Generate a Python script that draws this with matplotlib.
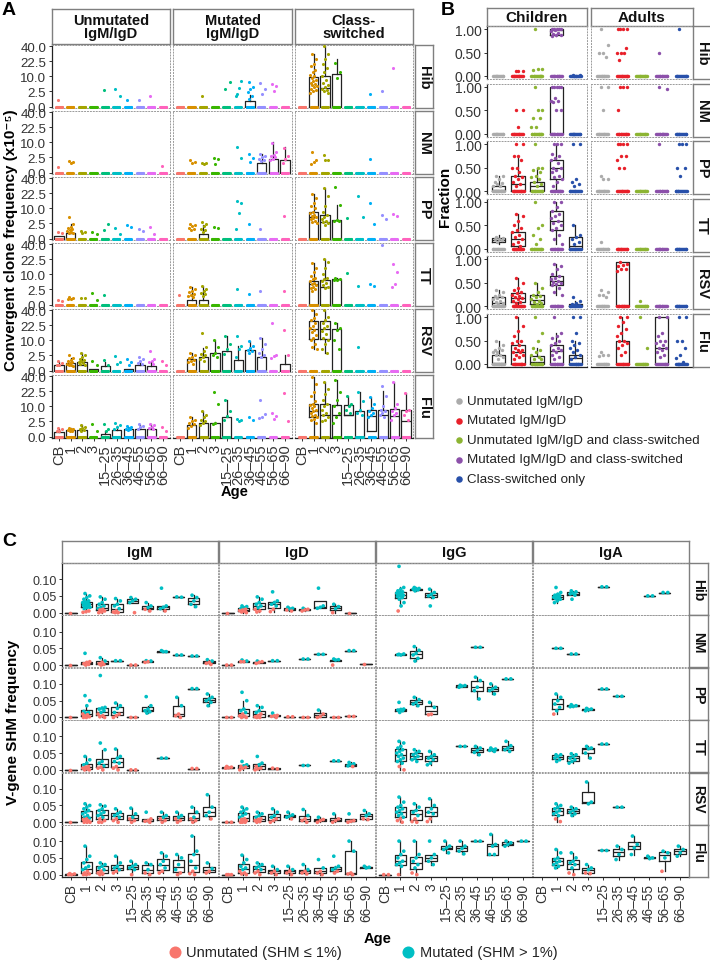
import numpy as np
import matplotlib.pyplot as plt

plt.rcParams['font.family'] = ['Liberation Sans', 'DejaVu Sans']

# ---------------- data ----------------
AGES = ["CB", "1", "2", "3", "15–25", "26–35", "36–45", "46–55", "56–65", "66–90"]
ANTIGENS = ["Hib", "NM", "PP", "TT", "RSV", "Flu"]
HUE10 = ["#F8766D", "#D89000", "#A3A500", "#39B600", "#00BF7D",
         "#00BFC4", "#00B0F6", "#9590FF", "#E76BF3", "#FF62BC"]

# Panel A: non-zero convergent clone frequencies (x1e-5) per age group
A_TICKS = [0.0, 2.5, 10.0, 22.5, 40.0]
A_NZERO = 10  # every group also has a run of donors at 0

A_UNMUT = {
    "Hib": [[0.5], [], [], [], [3.0], [3.4, 1.2], [0.5], [0.5], [1.2], []],
    "NM": [[0.4], [1.5, 1.2, 1.1], [], [], [], [], [], [], [], [0.5]],
    "PP": [[0.5, 0.3], [5.2, 2.2, 1.5, 1.2, 1.0, 0.8, 0.6, 0.5, 0.4, 0.3], [0.6, 0.5, 0.4],
           [0.5, 0.2], [0.8, 2.4], [1.3, 0.2], [2.0, 1.5], [1.0, 0.6], [1.4, 0.2], []],
    "TT": [[0.2, 0.15], [0.7, 0.5, 0.4, 0.3], [0.5, 0.5], [1.35, 0.2], [1.0], [], [], [], [], []],
    "RSV": [[1.0, 0.6, 0.4, 0.3], [2.5, 1.7, 1.2, 1.0, 0.8, 0.6, 0.5, 0.4, 0.3, 0.2],
            [3.2, 2.5, 2.0, 1.5, 1.2, 1.0, 0.8, 0.6, 0.5, 0.4], [0.96, 0.4], [1.2, 0.4],
            [2.3, 0.8, 0.5], [1.4, 0.8, 0.3], [2.0, 1.5, 1.0, 0.7, 0.5],
            [4.1, 1.5, 1.0, 0.8, 0.5], [1.0, 0.4]],
    "Flu": [[0.9, 0.6, 0.4, 0.3], [0.8, 0.7, 0.6, 0.5, 0.4, 0.3], [1.5, 1.1, 0.9, 0.7, 0.5, 0.4],
            [1.8, 0.4], [1.8, 0.6, 0.3], [2.0, 1.5, 1.0, 0.7], [1.2, 1.0, 0.8, 0.7, 0.6, 0.5],
            [1.6, 1.3, 1.0, 0.7], [1.8, 1.5, 1.0, 0.8, 0.6], [1.0, 0.4]],
}
A_MUT = {
    "Hib": [[], [], [1.2], [], [3.4, 6.8], [1.7, 7.4, 3.9, 1.2], [6.8, 4.3, 3.4, 2.2, 1.3, 0.6],
            [6.3, 3.4, 1.7], [5.8, 4.7, 2.5], []],
    "NM": [[], [1.6, 1.2, 1.0], [1.0, 1.0, 0.9], [2.3, 2.0, 0.8], [], [6.9, 2.3], [3.9, 2.3, 1.2],
           [3.8, 3.0, 2.5, 2.0, 1.8, 1.5], [9.5, 4.5, 3.5, 3.0, 2.5, 2.0, 1.8], [6.8, 3.0, 2.0, 1.0]],
    "PP": [[], [2.4, 2.0, 1.6, 1.2, 1.0, 0.8], [3.0, 2.2, 1.6, 1.0, 0.8, 0.5], [1.5, 1.3], [],
           [15.4, 14.0, 7.4, 1.0], [2.4], [1.0], [], [5.6]],
    "TT": [[1.0], [3.3, 2.5, 2.0, 1.6, 1.2, 1.0, 0.8, 0.6], [3.6, 2.5, 2.0, 1.5, 1.2, 0.8], [], [],
           [2.6], [1.2], [2.0], [], [2.0]],
    "RSV": [[], [3.4, 2.5, 2.0, 1.6, 1.3, 1.0, 0.8, 0.5], [15.6, 6, 4, 3, 2.5, 2, 1.5, 1.0],
            [10, 6, 3.5, 2.5, 2.0], [13, 8, 5, 3], [13, 6.7, 5, 2], [9.5, 6.5, 5.5, 4.5, 4.0, 3.5],
            [12, 8, 5, 3.5, 2.5, 2.0], [25, 2.5, 2.2, 1.8], [18, 2.8]],
    "Flu": [[], [4.0, 3.0, 2.5, 2.0, 1.6, 1.2, 0.9], [7, 5, 4, 3, 2.5, 2, 1.5], [22, 11.8, 2.0, 1.6],
            [15, 7, 4.5, 3], [3.3, 3.0, 2.7], [4.0, 3.0], [14.5, 5.4, 4.2, 3.6], [6, 4.5, 3.4],
            [21, 2.6]],
}
A_CS = {
    "Hib": [[], [30, 25, 20, 18, 15, 13, 11, 10, 9, 8, 7, 6, 5.5, 5, 4.5, 4, 3.5, 3, 2.5, 2],
            [40, 30, 25, 20, 16, 13, 10, 8, 6, 5, 4, 3.5, 3, 2.5, 2], [21, 13, 8.8], [], [],
            [1.6], [2.7], [16.5], []],
    "NM": [[], [4.6, 1.8, 1.2, 0.9], [3.3, 1.8, 1.6], [], [], [], [2.0], [], [], []],
    "PP": [[], [22, 18, 14, 12, 10, 8, 7, 6, 5.5, 5, 4.5, 4, 3.5, 3, 2.5],
           [28, 20, 12, 8, 6, 5, 4, 3.5, 3, 2.5, 2], [29, 12.7, 3.8, 3.5, 3.2], [4.7], [20, 5.0],
           [14, 2.3], [6.1, 4.2], [6.4, 5.6], []],
    "TT": [[], [19, 15, 12, 9, 8, 7, 6, 5, 4.5, 4, 3.5, 3, 2.5, 2],
           [23, 20, 15, 10, 8, 7, 6, 5, 4, 3.5, 3], [7.5, 7.0, 6.8, 6.5], [10.7], [3.6], [4.6, 3.9],
           [39], [17.8, 12, 4.5, 3.3], []],
    "RSV": [[], [40, 35, 30, 28, 25, 22, 20, 18, 16, 14, 12, 10, 8, 6, 5],
            [40, 32, 28, 25, 22, 20, 17, 15, 12, 10, 8, 5, 3.5], [25, 20, 18, 10, 5], [], [6.3],
            [], [], [], []],
    "Flu": [[], [39, 30, 22, 18, 14, 12, 11, 10, 9, 8, 7, 6, 5, 4.5, 4, 3.5, 3, 2],
            [33, 25, 20, 15, 12, 10, 8, 6, 5, 4, 3, 2.5], [35, 22, 15, 10, 6, 4, 2], [18, 12, 10, 8, 6],
            [22, 14, 8, 6, 5], [17, 12, 9, 7, 6, 5, 4], [28, 18, 10, 8, 7, 6, 5, 4],
            [33, 12, 9, 7, 6, 5, 3], [21, 8, 7, 5, 3]],
}
# box summaries: group index -> (whisker low, q1, median, q3, whisker high)
A_BOX_UNMUT = {
    "PP": {0: (0, 0, 0, 0.05, 0.05), 1: (0, 0, 0, 0.3, 2.2)},
    "RSV": {0: (0, 0, 0, 0.3, 0.8), 1: (0, 0, 0, 0.6, 1.7), 2: (0, 0, 0.3, 0.9, 3.2),
            3: (0, 0, 0, 0.03, 0.03), 4: (0, 0, 0, 0.2, 0.9), 6: (0, 0, 0, 0.03, 0.03),
            7: (0, 0, 0, 0.3, 1.0), 8: (0, 0, 0, 0.2, 0.8)},
    "Flu": {0: (0, 0, 0, 0.22, 0.7), 1: (0, 0, 0, 0.43, 0.8), 2: (0, 0, 0, 0.43, 1.4),
            4: (0, 0, 0, 0.1, 0.3), 5: (0, 0, 0, 0.5, 1.3), 6: (0, 0, 0, 0.6, 1.0),
            7: (0, 0, 0, 0.6, 1.4), 8: (0, 0, 0, 0.6, 1.8)},
}
A_BOX_MUT = {
    "Hib": {6: (0, 0, 0, 0.3, 1.4)},
    "NM": {7: (0, 0, 0, 1.0, 3.6), 8: (0, 0, 0, 2.1, 10.2), 9: (0, 0, 0, 1.6, 7.4)},
    "PP": {2: (0, 0, 0, 0.22, 2.0)},
    "TT": {1: (0, 0, 0, 0.2, 3.3), 2: (0, 0, 0, 0.2, 3.6)},
    "RSV": {1: (0, 0, 0, 1.44, 3.4), 2: (0, 0, 0, 2.0, 5.7), 3: (0, 0, 0, 3.4, 10),
            4: (0, 0, 0, 4.2, 13), 5: (0, 0, 0, 1.3, 6.7), 6: (0, 0, 0, 4.6, 9.5),
            7: (0, 0, 0, 2.0, 12), 9: (0, 0, 0, 0.47, 2.8)},
    "Flu": {1: (0, 0, 0, 1.4, 4.0), 2: (0, 0, 0, 2.1, 7), 3: (0, 0, 0, 2.0, 2.3),
            4: (0, 0, 0, 4.4, 15)},
}
A_BOX_CS = {
    "Hib": {1: (0, 0, 0, 9.5, 30), 2: (0, 0, 3.6, 10, 40), 3: (0, 0, 0, 11.9, 25)},
    "PP": {1: (0, 0, 4.9, 8.0, 22), 2: (0, 0, 3.0, 6.1, 28), 3: (0, 0, 0, 3.7, 12.7)},
    "TT": {1: (0, 0, 4.7, 6.1, 19), 2: (0, 0, 3.3, 6.5, 23), 3: (0, 0, 0, 7.1, 7.5)},
    "RSV": {1: (4.9, 10.9, 19, 27, 40), 2: (3.5, 10.9, 19, 27, 40), 3: (0, 0, 0, 18.7, 25)},
    "Flu": {1: (0, 4.0, 7.0, 11.4, 39), 2: (0, 0, 4.9, 11.4, 33), 3: (0, 0, 4.9, 11, 35),
            4: (5.2, 5.2, 5.2, 11, 18), 5: (0, 0, 0, 7.4, 22), 6: (0.3, 0.3, 4.7, 8.0, 17),
            7: (0, 0, 4.9, 7.5, 23), 8: (0, 0, 4.6, 8.6, 33), 9: (0, 0, 2.7, 7.8, 21)},
}

# Panel B: fraction of convergent clones per donor (non-zero values)
B_CATS = ["Unmutated IgM/IgD", "Mutated IgM/IgD", "Unmutated IgM/IgD and class-switched",
          "Mutated IgM/IgD and class-switched", "Class-switched only"]
B_COLORS = ["#ABABAB", "#E8202A", "#8CB432", "#8C50AA", "#2850AA"]
B_NZERO = 14
B_CHILD = {
    "Hib": [[], [0.1, 0.1, 0.1], [1.0, 0.15, 0.15, 0.12],
            [1, 1, 1, 1, 1, 0.97, 0.95, 0.92, 0.9, 0.88, 0.87, 0.85], [0.03, 0.02]],
    "NM": [[], [0.5, 0.5, 0.15], [1.0, 0.5, 0.5, 0.33, 0.33, 0.15, 0.15],
           [1, 1, 1, 1, 1, 0.75, 0.7, 0.7, 0.67, 0.5, 0.5], []],
    "PP": [[0.33, 0.33, 0.25, 0.2, 0.17, 0.15, 0.12, 0.1],
           [1, 1, 0.75, 0.75, 0.67, 0.5, 0.5, 0.4, 0.33, 0.3, 0.25, 0.2, 0.15, 0.1],
           [1, 0.5, 0.5, 0.45, 0.4, 0.33, 0.3, 0.25, 0.2, 0.15, 0.1],
           [1, 1, 1, 0.8, 0.75, 0.7, 0.67, 0.6, 0.5, 0.5, 0.45, 0.4, 0.33, 0.3, 0.25, 0.2, 0.1],
           [1.0, 1.0, 0.25, 0.2, 0.15, 0.12]],
    "TT": [[0.25, 0.22, 0.2, 0.2, 0.18, 0.15],
           [0.75, 0.7, 0.6, 0.5, 0.45, 0.4, 0.35, 0.3, 0.25, 0.2, 0.15, 0.1, 0.05],
           [1.0, 0.5, 0.45, 0.3, 0.2, 0.1],
           [1.0, 1.0, 0.9, 0.8, 0.75, 0.7, 0.65, 0.6, 0.55, 0.5, 0.45, 0.4, 0.3, 0.2, 0.1],
           [0.5, 0.3, 0.25, 0.2, 0.15, 0.1]],
    "RSV": [[0.35, 0.3, 0.25, 0.22, 0.2, 0.18, 0.15, 0.12, 0.1, 0.08, 0.05],
            [0.6, 0.5, 0.4, 0.35, 0.3, 0.28, 0.25, 0.22, 0.2, 0.18, 0.15, 0.12, 0.1, 0.08],
            [0.5, 0.4, 0.3, 0.25, 0.22, 0.2, 0.15, 0.12, 0.1, 0.08, 0.05],
            [0.9, 0.85, 0.8, 0.7, 0.65, 0.6, 0.58, 0.55, 0.52, 0.5, 0.48, 0.45, 0.4, 0.3, 0.25],
            [0.2, 0.12, 0.08, 0.05, 0.03, 0.02]],
    "Flu": [[0.5, 0.4, 0.35, 0.3, 0.3, 0.25, 0.25, 0.2, 0.2, 0.15, 0.1],
            [1, 0.8, 0.7, 0.6, 0.5, 0.5, 0.45, 0.4, 0.35, 0.3, 0.3, 0.25, 0.25, 0.2, 0.2, 0.15, 0.1],
            [1.0, 0.67, 0.5, 0.33, 0.3, 0.25, 0.2, 0.15, 0.1, 0.1],
            [1.0, 0.67, 0.6, 0.55, 0.5, 0.45, 0.4, 0.35, 0.3, 0.3, 0.25, 0.2, 0.15, 0.1],
            [1, 1, 0.67, 0.5, 0.45, 0.4, 0.35, 0.3, 0.25, 0.2, 0.15, 0.1]],
}
B_ADULT = {
    "Hib": [[1.0, 0.65, 0.5, 0.5, 0.4], [1, 1, 1, 1, 0.6, 0.5, 0.5, 0.5, 0.33], [], [0.5], [1.0]],
    "NM": [[1.0, 1.0, 0.5], [1, 1, 1, 0.5], [], [1.0, 0.95], []],
    "PP": [[0.33, 0.25, 0.25], [1, 1, 1, 1, 0.75, 0.75, 0.67, 0.5, 0.5], [], [1.0],
           [1, 1, 1, 0.5, 0.5, 0.33]],
    "TT": [[0.15], [], [], [], []],
    "RSV": [[0.35, 0.3, 0.25, 0.25, 0.2], [0.95, 0.9, 0.88, 0.85, 0.8, 0.8, 0.75], [0.12], [], []],
    "Flu": [[0.25, 0.2, 0.2, 0.17],
            [1, 1, 0.9, 0.8, 0.75, 0.67, 0.6, 0.5, 0.5, 0.45, 0.4, 0.33, 0.25, 0.2], [1.0, 0.33],
            [1, 1, 0.67, 0.6, 0.5, 0.5, 0.45, 0.4, 0.35, 0.33, 0.3, 0.25, 0.2, 0.15],
            [1, 1, 0.5, 0.5, 0.33, 0.2, 0.12, 0.05]],
}
B_BOX_CHILD = {
    "Hib": {3: (0.85, 0.88, 0.97, 1.0, 1.0)},
    "NM": {3: (0, 0, 0, 1.0, 1.0)},
    "PP": {0: (0, 0, 0.03, 0.1, 0.33), 1: (0, 0, 0.15, 0.33, 0.75), 2: (0, 0, 0.12, 0.2, 0.5),
           3: (0, 0.25, 0.5, 0.67, 1.0)},
    "TT": {0: (0.1, 0.15, 0.18, 0.22, 0.3), 1: (0, 0.05, 0.2, 0.35, 0.75),
           3: (0.1, 0.4, 0.6, 0.8, 1.0), 4: (0, 0, 0.05, 0.25, 0.5)},
    "RSV": {0: (0, 0, 0.08, 0.2, 0.35), 1: (0, 0.1, 0.18, 0.28, 0.6), 2: (0, 0.05, 0.13, 0.25, 0.5),
            3: (0.25, 0.45, 0.55, 0.65, 0.9), 4: (0, 0, 0.02, 0.05, 0.12)},
    "Flu": {0: (0, 0, 0.02, 0.2, 0.5), 1: (0, 0, 0.25, 0.4, 1.0), 2: (0, 0, 0.05, 0.17, 0.33),
            3: (0, 0, 0.27, 0.4, 0.65), 4: (0, 0, 0.12, 0.2, 0.5)},
}
B_BOX_ADULT = {
    "RSV": {1: (0, 0, 0, 0.95, 0.95)},
    "Flu": {1: (0, 0, 0, 0.5, 1.0), 3: (0, 0, 0.33, 1.0, 1.0)},
}

# Panel C: V-gene SHM frequency per clone, by isotype and age group
C_ISOTYPES = ["IgM", "IgD", "IgG", "IgA"]
C_UNMUT_COLOR, C_MUT_COLOR = "#F8766D", "#00BFC4"
C_IGM = {
    "Hib": [[0.0], [0.057, 0.05, 0.045, 0.04, 0.035, 0.032, 0.03, 0.028, 0.027, 0.025, 0.024, 0.022,
                    0.02, 0.018, 0.016, 0.015, 0.012, 0.005, 0.003, 0.001],
            [0.047, 0.04, 0.03, 0.025, 0.02, 0.016, 0.013, 0.01, 0.008, 0.005, 0.002, 0.0],
            [0.042, 0.035, 0.025, 0.02, 0.012, 0.005, 0.002, 0.0, 0.0], [0.045, 0.04, 0.035, 0.03, 0.0],
            [0.03, 0.02, 0.015, 0.01, 0.005], [0.073, 0.02, 0.016, 0.012, 0.005], [0.047, 0.046],
            [0.052, 0.045, 0.035, 0.025, 0.018], []],
    "NM": [[0.0], [0.035, 0.01, 0.008, 0.004, 0.002, 0.0], [0.022, 0.012, 0.008, 0.004, 0.002, 0.0],
           [0.013, 0.013], [0.0, 0.0], [0.013, 0.012, 0.01, 0.008], [0.043, 0.04, 0.04], [0.03, 0.03],
           [0.027, 0.027], [0.016, 0.012, 0.008, 0.005, 0.002]],
    "PP": [[0.0], [0.065, 0.05, 0.035, 0.018, 0.015, 0.012, 0.01, 0.008, 0.005, 0.002, 0.0, 0.0],
           [0.125, 0.03, 0.028, 0.025, 0.02, 0.015, 0.01, 0.005, 0.002, 0.0],
           [0.043, 0.035, 0.027, 0.015, 0.01, 0.005, 0.0], [0.0, 0.0],
           [0.062, 0.035, 0.025, 0.02, 0.017, 0.013], [], [0.06, 0.035, 0.01, 0.005, 0.0],
           [0.086, 0.086], [0.07, 0.06, 0.055, 0.05, 0.045, 0.035]],
    "TT": [[0.0], [0.04, 0.03, 0.02, 0.015, 0.01, 0.008, 0.005, 0.003, 0.0, 0.0],
           [0.08, 0.06, 0.025, 0.02, 0.012, 0.008, 0.005, 0.0],
           [0.062, 0.04, 0.035, 0.025, 0.02, 0.01, 0.005, 0.0], [0.0, 0.0], [], [0.035, 0.035], [],
           [0.004, 0.004], []],
    "RSV": [[0.0], [0.055, 0.05, 0.045, 0.04, 0.035, 0.03, 0.025, 0.02, 0.015, 0.012, 0.01, 0.008,
                    0.005, 0.003, 0.0, 0.0, 0.0],
            [0.052, 0.048, 0.04, 0.035, 0.03, 0.025, 0.02, 0.015, 0.01, 0.005, 0.0, 0.0],
            [0.04, 0.03, 0.025, 0.02, 0.015, 0.01, 0.005, 0.0], [0.042, 0.025, 0.015, 0.01, 0.005, 0.0],
            [0.03, 0.01, 0.005, 0.003, 0.0], [0.03, 0.02, 0.015, 0.01, 0.005, 0.0],
            [0.03, 0.02, 0.015, 0.01, 0.005, 0.0], [0.045, 0.03, 0.015, 0.01, 0.005, 0.0],
            [0.082, 0.045, 0.03, 0.02, 0.01]],
    "Flu": [[0.003, 0.002, 0.0, 0.0],
            [0.085, 0.055, 0.045, 0.035, 0.025, 0.02, 0.015, 0.01, 0.005, 0.002, 0.0, 0.0],
            [0.035, 0.03, 0.025, 0.02, 0.015, 0.01, 0.005, 0.002, 0.0],
            [0.055, 0.035, 0.025, 0.02, 0.015, 0.01, 0.005], [0.04, 0.03, 0.025, 0.02, 0.015, 0.0],
            [0.035, 0.03, 0.015, 0.005, 0.0], [0.065, 0.055, 0.04, 0.03, 0.02, 0.01, 0.005],
            [0.06, 0.05, 0.03, 0.015, 0.005, 0.0], [0.115, 0.07, 0.06, 0.04, 0.02, 0.01, 0.003, 0.0],
            [0.035, 0.018, 0.01, 0.005]],
}
C_IGD = {
    "Hib": [[0.0], [0.02, 0.018, 0.015, 0.012, 0.01, 0.008, 0.006, 0.004, 0.002, 0.0],
            [0.047, 0.04, 0.03, 0.025, 0.02, 0.015, 0.01, 0.005, 0.002],
            [0.062, 0.035, 0.03, 0.025, 0.02, 0.01, 0.003], [0.016, 0.013, 0.011, 0.008, 0.005],
            [0.013, 0.01, 0.008, 0.005], [0.073, 0.02, 0.016, 0.013], [0.025, 0.018, 0.012, 0.0],
            [0.0], []],
    "NM": [[0.0, 0.0], [0.015, 0.012, 0.01, 0.01], [0.012, 0.01, 0.008, 0.005], [0.013, 0.013], [],
           [0.018, 0.018], [0.032, 0.032], [0.018, 0.016, 0.015, 0.0], [0.043, 0.043], [0.003]],
    "PP": [[0.0, 0.0], [0.075, 0.05, 0.025, 0.02, 0.015, 0.01, 0.005, 0.003, 0.0, 0.0],
           [0.035, 0.03, 0.02, 0.015, 0.01, 0.005, 0.002, 0.0, 0.0], [0.013, 0.006, 0.005, 0.003, 0.0],
           [0.002, 0.002], [0.0, 0.0], [0.022, 0.01, 0.003, 0.0], [0.0, 0.0], [0.003, 0.003], []],
    "TT": [[0.01, 0.008, 0.006, 0.005], [0.025, 0.015, 0.012, 0.01, 0.008, 0.005, 0.0],
           [0.04, 0.02, 0.015, 0.01, 0.005, 0.003, 0.0], [0.005, 0.003], [], [0.013, 0.013], [],
           [0.027, 0.027], [0.022, 0.018, 0.015, 0.012, 0.01], []],
    "RSV": [[0.0, 0.0], [0.045, 0.04, 0.035, 0.03, 0.025, 0.02, 0.015, 0.01, 0.008, 0.005, 0.003,
                         0.0, 0.0, 0.0],
            [0.03, 0.025, 0.02, 0.015, 0.01, 0.008, 0.005, 0.002, 0.0],
            [0.04, 0.03, 0.02, 0.015, 0.01, 0.005, 0.0], [0.03, 0.022, 0.018, 0.015, 0.01],
            [0.038, 0.02, 0.01, 0.005, 0.0], [0.015, 0.008, 0.005, 0.0], [0.025, 0.01, 0.005, 0.0],
            [0.025, 0.005, 0.003, 0.0], [0.035, 0.025, 0.02, 0.01, 0.008]],
    "Flu": [[0.0, 0.0, 0.0], [0.058, 0.045, 0.035, 0.025, 0.02, 0.015, 0.01, 0.005, 0.002, 0.0],
            [0.035, 0.03, 0.025, 0.02, 0.015, 0.01, 0.005, 0.0], [0.025, 0.015, 0.01, 0.005, 0.0],
            [0.025, 0.015, 0.01, 0.005, 0.0], [0.03, 0.015, 0.01, 0.005, 0.002],
            [0.045, 0.02, 0.01, 0.005, 0.0], [0.055, 0.025, 0.02, 0.015, 0.01, 0.005],
            [0.1, 0.07, 0.005, 0.002, 0.0], [0.025, 0.022, 0.02]],
}
C_IGG = {
    "Hib": [[], [0.138, 0.075, 0.07, 0.065, 0.062, 0.06, 0.058, 0.056, 0.054, 0.052, 0.05, 0.048,
                 0.045, 0.04, 0.03, 0.02, 0.005],
            [0.075, 0.072, 0.071, 0.07, 0.068, 0.065], [0.07, 0.06, 0.055, 0.05, 0.045, 0.02],
            [], [], [], [], [], []],
    "NM": [[], [0.032, 0.033, 0.03, 0.031], [0.055, 0.044, 0.035, 0.03, 0.02, 0.012], [], [], [],
           [0.053, 0.053], [], [], []],
    "PP": [[], [0.045, 0.025, 0.024, 0.022, 0.02, 0.015], [0.06, 0.053, 0.045, 0.04, 0.035],
           [0.045, 0.03, 0.01, 0.008], [], [0.096, 0.095, 0.093, 0.09], [0.12, 0.11, 0.09, 0.08, 0.055],
           [0.1, 0.09, 0.085, 0.08, 0.07], [0.115, 0.115], []],
    "TT": [[], [0.085, 0.08, 0.07, 0.065, 0.06, 0.055, 0.05, 0.045, 0.04, 0.035, 0.03, 0.025, 0.02,
                0.01, 0.0],
           [0.06, 0.055, 0.05, 0.045, 0.04, 0.035, 0.03, 0.025],
           [0.055, 0.045, 0.04, 0.035, 0.03, 0.02, 0.015], [], [0.07, 0.07],
           [0.07, 0.065, 0.058, 0.052, 0.045], [0.065, 0.062, 0.06, 0.058, 0.055],
           [0.085, 0.072, 0.065, 0.06, 0.055], []],
    "RSV": [[], [0.075, 0.06, 0.05, 0.045, 0.04, 0.035, 0.03, 0.025, 0.02, 0.015, 0.01, 0.005, 0.0],
            [0.055, 0.045, 0.035, 0.03, 0.02, 0.01, 0.002, 0.0],
            [0.07, 0.05, 0.04, 0.03, 0.025, 0.01, 0.002], [], [], [], [], [], []],
    "Flu": [[0.0, 0.0], [0.1, 0.07, 0.06, 0.05, 0.04, 0.035, 0.03, 0.025, 0.0],
            [0.1, 0.06, 0.05, 0.04, 0.03, 0.02, 0.005, 0.0], [0.1, 0.06, 0.05, 0.04, 0.03],
            [0.1, 0.085, 0.08, 0.075, 0.065], [0.1, 0.085, 0.078, 0.07, 0.062], [0.1, 0.1],
            [0.12, 0.09, 0.085, 0.06, 0.06], [0.1, 0.095, 0.09, 0.085], [0.1, 0.1]],
}
C_IGA = {
    "Hib": [[], [0.075, 0.06, 0.055, 0.052, 0.05, 0.048, 0.046, 0.044, 0.042, 0.04, 0.035, 0.03],
            [0.065, 0.062, 0.058, 0.056, 0.052, 0.04], [], [0.077, 0.077], [], [], [0.05, 0.05],
            [0.06, 0.06], []],
    "NM": [[], [0.05, 0.05], [0.033, 0.033], [], [], [], [], [], [], []],
    "PP": [[], [0.07, 0.06, 0.05, 0.04, 0.03, 0.02, 0.01], [0.038, 0.035, 0.033, 0.032],
           [0.027, 0.025, 0.023, 0.02], [0.085, 0.085], [0.063, 0.063], [], [], [], []],
    "TT": [[], [0.045, 0.045, 0.04, 0.035, 0.03, 0.025], [0.048, 0.045, 0.04, 0.035, 0.03, 0.025, 0.02],
           [0.07, 0.065, 0.063, 0.05, 0.035], [0.077, 0.077], [], [], [], [], []],
    "RSV": [[], [0.055, 0.05, 0.045, 0.04, 0.035, 0.03, 0.025, 0.02, 0.01, 0.002],
            [0.045, 0.04, 0.035, 0.03, 0.025, 0.02], [0.12, 0.06, 0.055], [], [0.045, 0.045],
            [], [], [], []],
    "Flu": [[], [0.075, 0.065, 0.05, 0.045, 0.04, 0.035, 0.03, 0.025, 0.02],
            [0.065, 0.05, 0.04, 0.035, 0.03, 0.02, 0.005, 0.0], [0.03, 0.02, 0.015, 0.005, 0.003],
            [0.072, 0.072], [0.085, 0.075, 0.06, 0.045], [0.115, 0.09, 0.08, 0.06],
            [0.055, 0.05, 0.048], [0.07, 0.065, 0.05, 0.01], [0.085, 0.075, 0.065, 0.055]],
}

# ---------------- drawing helpers ----------------
W, H = 710, 962
fig = plt.figure(figsize=(W / 100, H / 100), dpi=100)
TXT = '#333333'
BOXP = dict(color='#222222', linewidth=0.9)


def px_axes(x0, y0, x1, y1):
    return fig.add_axes([x0 / W, 1 - y1 / H, (x1 - x0) / W, (y1 - y0) / H])


def jitter(n, w):
    return ((np.arange(n) * 0.618034 + 0.31) % 1.0 - 0.5) * 2 * w


def style_panel(ax, first_col, last_row):
    for side in ['top', 'right', 'left', 'bottom']:
        ax.spines[side].set(linestyle=(0, (1, 2)), color='#9a9a9a', linewidth=0.7)
    if first_col:
        ax.spines['left'].set(linestyle='-', color='#222222', linewidth=0.9)
    if last_row:
        ax.spines['bottom'].set(linestyle='-', color='#222222', linewidth=0.9)
    ax.tick_params(length=2.5, width=0.7, color='#333333', pad=1.5)
    ax.set_facecolor('none')


def strip(x0, y0, x1, y1, text, size, rot=0):
    s = px_axes(x0, y0, x1, y1)
    s.set_xticks([])
    s.set_yticks([])
    for sp in s.spines.values():
        sp.set_color('#7f7f7f')
        sp.set_linewidth(1.0)
    s.text(0.5, 0.5, text, transform=s.transAxes, ha='center', va='center',
           fontsize=size, fontweight='bold', rotation=rot, linespacing=0.95, color='#111111')


def draw_box(ax, pos, st, width, tf=None):
    vals = [np.sqrt(v) for v in st] if tf == 'sqrt' else list(st)
    ax.bxp([dict(whislo=vals[0], q1=vals[1], med=vals[2], q3=vals[3], whishi=vals[4], fliers=[])],
           positions=[pos], widths=width, showfliers=False, showcaps=False,
           boxprops=BOXP, whiskerprops=BOXP, medianprops=BOXP, manage_ticks=False, zorder=2)


# ---------------- panel A ----------------
A_COLS = [(52, 170), (173, 292), (295, 413)]
A_FACETS = [("Unmutated\nIgM/IgD", A_UNMUT, A_BOX_UNMUT),
            ("Mutated\nIgM/IgD", A_MUT, A_BOX_MUT),
            ("Class-\nswitched", A_CS, A_BOX_CS)]
for c, (title, pts, boxes) in enumerate(A_FACETS):
    x0, x1 = A_COLS[c]
    strip(x0, 10, x1, 45, title, 10.5)
    for r, ag in enumerate(ANTIGENS):
        top = 46 + 66 * r
        ax = px_axes(x0, top, x1, top + 63)
        style_panel(ax, c == 0, r == 5)
        ax.set_xlim(0.4, 10.6)
        ax.set_ylim(-0.15, 6.45)
        for g in range(10):
            st = boxes.get(ag, {}).get(g)
            if st:
                draw_box(ax, g + 1, st, 0.8, 'sqrt')
            v = np.array(pts[ag][g] + [0.0] * A_NZERO)
            ax.scatter(g + 1 + jitter(len(v), 0.3), np.sqrt(v), s=5, color=HUE10[g],
                       linewidths=0, zorder=3)
        if c == 0:
            ax.set_yticks(np.sqrt(A_TICKS))
            ax.set_yticklabels(["%.1f" % t for t in A_TICKS], fontsize=9.6, color=TXT)
        else:
            ax.set_yticks([])
        if r == 5:
            ax.set_xticks(range(1, 11))
            ax.set_xticklabels(AGES, rotation=90, fontsize=10.5, color=TXT)
        else:
            ax.set_xticks([])
        if c == 2:
            strip(415, top, 433, top + 63, ag, 10.5, rot=-90)

# ---------------- panel B ----------------
B_COLS = [(487, 587), (591, 693)]
B_FACETS = [("Children", B_CHILD, B_BOX_CHILD), ("Adults", B_ADULT, B_BOX_ADULT)]
for c, (title, pts, boxes) in enumerate(B_FACETS):
    x0, x1 = B_COLS[c]
    strip(x0, 9, x1, 27, title, 11)
    for r, ag in enumerate(ANTIGENS):
        top = 27 + 57.6 * r
        ax = px_axes(x0, top, x1, top + 53)
        style_panel(ax, c == 0, r == 5)
        ax.set_xlim(0.4, 5.6)
        ax.set_ylim(-0.064, 1.064)
        for g in range(5):
            st = boxes.get(ag, {}).get(g)
            if st:
                draw_box(ax, g + 1, st, 0.7)
            v = np.array(pts[ag][g] + [0.0] * B_NZERO)
            ax.scatter(g + 1 + jitter(len(v), 0.3), v, s=6, color=B_COLORS[g],
                       linewidths=0, zorder=3)
        ax.set_xticks([])
        if c == 0:
            ax.set_yticks([0, 0.5, 1.0])
            ax.set_yticklabels(["0.00", "0.50", "1.00"], fontsize=10, color=TXT)
        else:
            ax.set_yticks([])
        if c == 1:
            strip(693, top, 711, top + 53, ag, 10.5, rot=-90)

# ---------------- panel C ----------------
C_COLS = [(62, 218), (219, 375), (376, 532), (533, 689)]
C_DATA = [C_IGM, C_IGD, C_IGG, C_IGA]
for c, iso in enumerate(C_ISOTYPES):
    x0, x1 = C_COLS[c]
    strip(x0, 542, x1, 564, iso, 10.5)
    for r, ag in enumerate(ANTIGENS):
        top = 564 + 52.4 * r
        ax = px_axes(x0, top, x1, top + 52)
        style_panel(ax, c == 0, r == 5)
        ax.set_xlim(0.4, 10.6)
        ax.set_ylim(-0.007, 0.148)
        for g in range(10):
            vals = C_DATA[c][ag][g]
            if not vals:
                continue
            ax.boxplot([vals], positions=[g + 1], widths=0.75, whis=1.5, showfliers=False,
                       showcaps=False, boxprops=BOXP, whiskerprops=BOXP, medianprops=BOXP,
                       manage_ticks=False, zorder=2)
            v = np.array(vals)
            cols = [C_UNMUT_COLOR if x <= 0.01 else C_MUT_COLOR for x in v]
            ax.scatter(g + 1 + jitter(len(v), 0.25), v, s=7, c=cols, linewidths=0, zorder=3)
        if c == 0:
            ax.set_yticks([0, 0.05, 0.10])
            ax.set_yticklabels(["0.00", "0.05", "0.10"], fontsize=9, color=TXT)
        else:
            ax.set_yticks([])
        if r == 5:
            ax.set_xticks(range(1, 11))
            ax.set_xticklabels(AGES, rotation=90, fontsize=9.8, color=TXT)
        else:
            ax.set_xticks([])
        if c == 3:
            strip(689, top, 708, top + 52, ag, 10, rot=-90)

# ---------------- labels, legends ----------------
ov = fig.add_axes([0, 0, 1, 1])
ov.set_xlim(0, W)
ov.set_ylim(H, 0)
ov.axis('off')

for lab, x, y in [("A", 2, 2), ("B", 441, 2), ("C", 2, 533)]:
    ov.text(x, y, lab, fontsize=14, fontweight='bold', va='top', ha='left')

ov.text(11, 240, "Convergent clone frequency (x10⁻⁵)", rotation=90, ha='center', va='center',
        fontsize=11, fontweight='bold')
ov.text(235, 492, "Age", ha='center', va='center', fontsize=10.5, fontweight='bold')
ov.text(445, 197, "Fraction", rotation=90, ha='center', va='center', fontsize=11, fontweight='bold')
ov.text(13, 722, "V-gene SHM frequency", rotation=90, ha='center', va='center',
        fontsize=11, fontweight='bold')
ov.text(378, 939, "Age", ha='center', va='center', fontsize=10.5, fontweight='bold')

for i, (lab, col) in enumerate(zip(B_CATS, B_COLORS)):
    y = 402 + 19.5 * i
    ov.scatter([459], [y], s=22, color=col, linewidths=0)
    ov.text(467, y, lab, ha='left', va='center', fontsize=9.6, color='#222222')

ov.scatter([175], [953], s=75, color=C_UNMUT_COLOR, linewidths=0)
ov.text(186, 953, "Unmutated (SHM ≤ 1%)", ha='left', va='center', fontsize=10.5, color='#222222')
ov.scatter([408], [953], s=75, color=C_MUT_COLOR, linewidths=0)
ov.text(420, 953, "Mutated (SHM > 1%)", ha='left', va='center', fontsize=10.5, color='#222222')

fig.savefig("out.png", dpi=100)
